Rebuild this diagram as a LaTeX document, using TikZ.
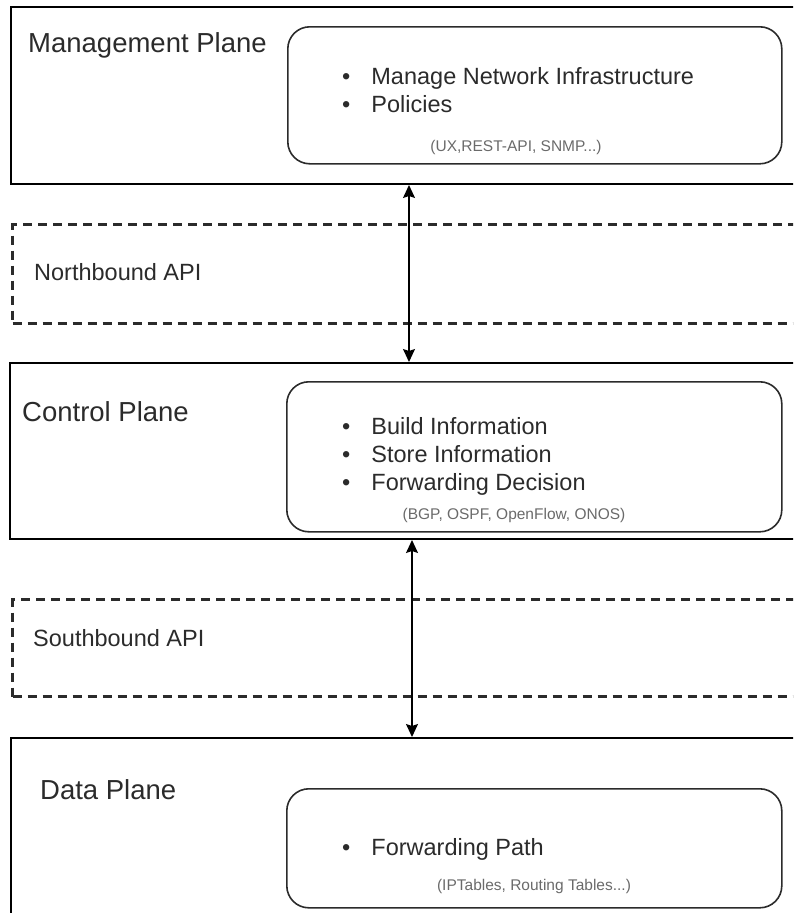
\documentclass[tikz,border=0pt]{standalone}
\usepackage{fontspec}
\setmainfont{Liberation Sans}
\usetikzlibrary{arrows.meta}
\definecolor{ink}{HTML}{2B2B2B}
\definecolor{note}{HTML}{6A6A6A}
\tikzset{
  plane/.style={draw=black, line width=2pt, anchor=north west, inner sep=0pt},
  apiband/.style={draw=ink, line width=3pt, dash pattern=on 9pt off 6pt, anchor=north west, inner sep=0pt},
  inner/.style={draw=ink, line width=1.6pt, rounded corners=22pt, anchor=north west, inner sep=0pt},
  title/.style={anchor=west, inner sep=0pt, text=ink, font=\fontsize{27.5}{32}\selectfont},
  apilabel/.style={anchor=west, inner sep=0pt, text=ink, font=\fontsize{23.5}{28}\selectfont},
  items/.style={anchor=west, inner sep=0pt, text=ink, font=\fontsize{23.5}{27.6}\selectfont},
  remark/.style={inner sep=0pt, text=note, font=\fontsize{15.5}{18}\selectfont},
  link/.style={draw=black, line width=1.4pt, {Stealth[length=13pt,width=12pt,inset=2pt]}-{Stealth[length=13pt,width=12pt,inset=2pt]}}
}
\newcommand{\itemlist}[1]{\begin{tabular}{@{}l@{\hspace{21pt}}l@{}}#1\end{tabular}}
\begin{document}
\begin{tikzpicture}[x=1pt,y=-1pt]
\useasboundingbox (0,0) rectangle (793,913);
\clip (0,0) rectangle (793,913);

% layers
\node[plane, minimum width=800pt, minimum height=177pt] (mgmt) at (10,6) {};
\node[apiband, minimum width=800pt, minimum height=99pt] (north) at (11,223) {};
\node[plane, minimum width=800pt, minimum height=176pt] (ctrl) at (9,362) {};
\node[apiband, minimum width=800pt, minimum height=97pt] (south) at (11,598) {};
\node[plane, minimum width=800pt, minimum height=200pt] (data) at (10,737) {};

% layer titles
\node[title] (mgmtT) at (28,45) {Management Plane};
\node[apilabel] (northT) at (34,272) {Northbound API};
\node[title] (ctrlT) at (22,412) {Control Plane};
\node[apilabel] (southT) at (33,638) {Southbound API};
\node[title] (dataT) at (40,790) {Data Plane};

% function boxes
\node[inner, minimum width=494pt, minimum height=137pt] (mgmtB) at (287,26) {};
\node[inner, minimum width=495pt, minimum height=150pt] (ctrlB) at (286,381) {};
\node[inner, minimum width=495pt, minimum height=119pt] (dataB) at (286,788) {};

% functions
\node[items] (mgmtL) at (342,93) {\itemlist{\textbullet & Manage Network Infrastructure\\ \textbullet & Policies}};
\node[items] (ctrlL) at (342,457) {\itemlist{\textbullet & Build Information\\ \textbullet & Store Information\\ \textbullet & Forwarding Decision}};
\node[items] (dataL) at (342,850) {\itemlist{\textbullet & Forwarding Path}};

% protocols
\node[remark] (mgmtR) at (516,147) {(UX,REST-API, SNMP...)};
\node[remark] (ctrlR) at (514,515) {(BGP, OSPF, OpenFlow, ONOS)};
\node[remark] (dataR) at (534,886) {(IPTables, Routing Tables...)};

% interfaces between layers
\coordinate (nbx) at (409,0);
\coordinate (sbx) at (412,0);
\draw[link] (mgmt.south -| nbx) -- (ctrl.north -| nbx);
\draw[link] (ctrl.south -| sbx) -- (data.north -| sbx);
\end{tikzpicture}
\end{document}
